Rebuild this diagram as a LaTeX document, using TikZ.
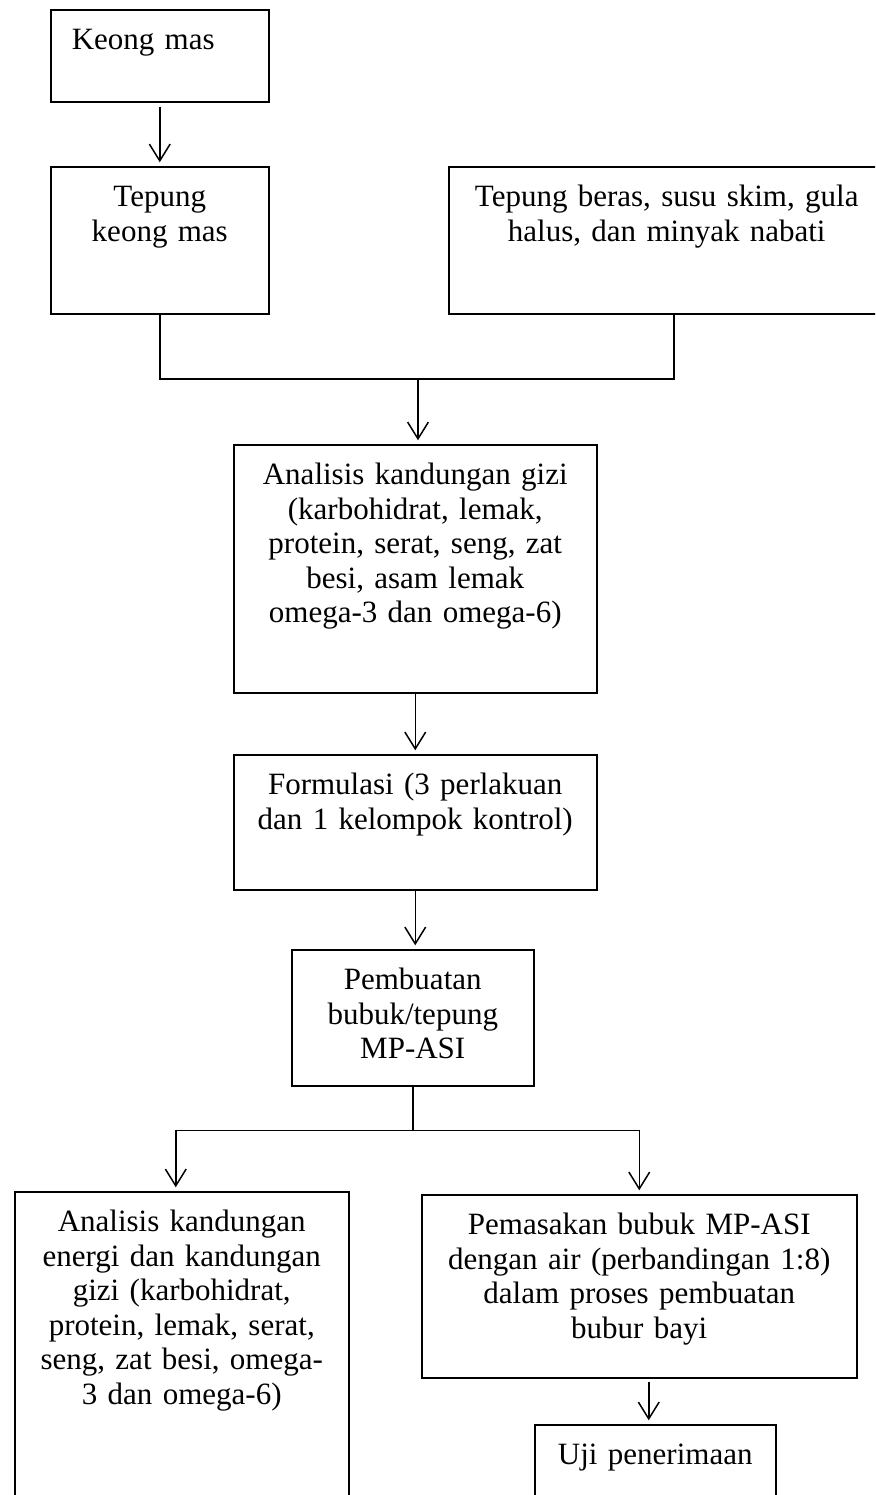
\documentclass[tikz,border=0pt]{standalone}
\usepackage{fontspec}
\setmainfont{Liberation Serif}
\usetikzlibrary{arrows.meta}

\tikzset{
  flowbox/.style={draw, line width=0.6pt, anchor=north west, inner xsep=0pt, inner ysep=7pt,
    text height=9pt, align=center, font=\fontsize{12.4}{13.8}\selectfont},
  flowline/.style={line width=0.6pt},
  flowarrow/.style={flowline, -{Straight Barb[length=6.7pt,width=8.3pt]}, shorten >=1.5pt}
}

\begin{document}
\begin{tikzpicture}[x=0.4pt, y=-0.4pt]
  % Fix the page size
  \useasboundingbox (0,0) rectangle (875,1495);
  \clip (0,0) rectangle (875,1495);

  % Draw the boxes
  \node[flowbox, align=left, inner xsep=8.4pt, text width=70.4pt, text depth=13.8pt] (keong) at (50,9) {Keong mas};
  \node[flowbox, text width=87.2pt, text depth=35.8pt] (tepung) at (50,166) {Tepung\\keong mas};
  \node[flowbox, text width=174.4pt, text depth=35.8pt] (bahan) at (448,166) {Tepung beras, susu skim, gula\\halus, dan minyak nabati};
  \node[flowbox, text width=145.2pt, text depth=76.2pt] (gizi) at (233,444) {Analisis kandungan gizi\\(karbohidrat, lemak,\\protein, serat, seng, zat\\besi, asam lemak\\omega-3 dan omega-6)};
  \node[flowbox, text width=145.2pt, text depth=31pt] (formula) at (233,754) {Formulasi (3 perlakuan\\dan 1 kelompok kontrol)};
  \node[flowbox, text width=96.8pt, text depth=31.4pt] (bubuk) at (291,949) {Pembuatan\\bubuk/tepung\\MP-ASI};
  \node[flowbox, text width=133.6pt, text depth=104.6pt] (energi) at (14,1191) {Analisis kandungan\\energi dan kandungan\\gizi (karbohidrat,\\protein, lemak, serat,\\seng, zat besi, omega-\\3 dan omega-6)};
  \node[flowbox, text width=174pt, text depth=50.2pt] (masak) at (421,1194) {Pemasakan bubuk MP-ASI\\dengan air (perbandingan 1:8)\\dalam proses pembuatan\\bubur bayi};
  \node[flowbox, text width=96.4pt, text depth=11.4pt] (uji) at (534,1424) {Uji penerimaan};

  % Connectors
  \draw[flowarrow, shorten <=1.6pt] (keong.south) -- (tepung.north);
  \coordinate (join) at (418,379);
  \draw[flowline] (tepung.south) |- (join) -| ([xshift=2.8pt]bahan.south);
  \draw[flowarrow] (join) -- (join |- gizi.north);
  \draw[flowarrow] (gizi.south) -- (formula.north);
  \draw[flowarrow] (formula.south) -- (formula.south |- bubuk.north);
  \coordinate (split) at ([yshift=-17.6pt]bubuk.south);
  \draw[flowline] (bubuk.south) -- (split);
  \draw[flowarrow] (split) -| ([xshift=-2.4pt]energi.north);
  \draw[flowarrow] (split) -| (masak.north);
  \draw[flowarrow, shorten <=1.2pt] ([xshift=3.8pt]masak.south) -- ([xshift=3.8pt]masak.south |- uji.north);
\end{tikzpicture}
\end{document}
